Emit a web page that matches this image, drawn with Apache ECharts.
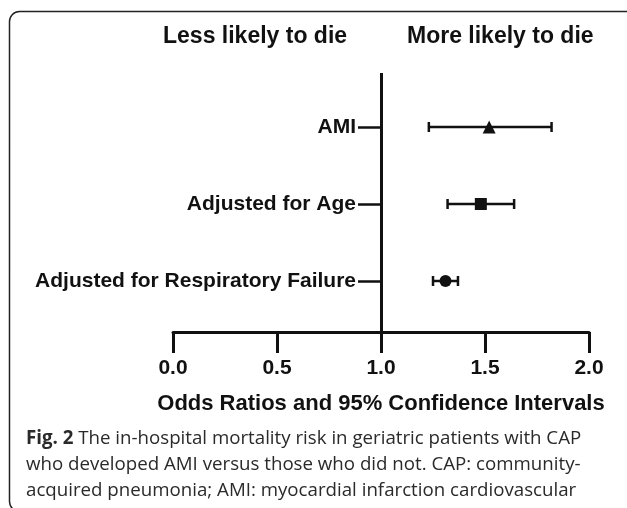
<!DOCTYPE html>
<html>
<head>
<meta charset="utf-8">
<script src="https://cdn.jsdelivr.net/npm/echarts@6/dist/echarts.min.js"></script>
<style>
  html, body { margin: 0; padding: 0; background: #fff; }
  #main { width: 627px; height: 508px; }
</style>
</head>
<body>
<div id="main"></div>
<script>
// forest plot data
var categories = ['AMI', 'Adjusted for Age', 'Adjusted for Respiratory Failure'];
var oddsRatio = [1.52, 1.48, 1.31];
var ciLow = [1.23, 1.32, 1.25];
var ciHigh = [1.82, 1.64, 1.37];
var markers = ['triangle', 'rect', 'circle'];
var markerSize = [13, 12, 12];
var xTicks = [0, 0.5, 1.0, 1.5, 2.0];
var captionLines = [
  '{b|Fig. 2} The in-hospital mortality risk in geriatric patients with CAP',
  'who developed AMI versus those who did not. CAP: community-',
  'acquired pneumonia; AMI: myocardial infarction cardiovascular'
];

var ink = '#111';
var font = 'Liberation Sans, Arial, sans-serif';

var myChart = echarts.init(document.getElementById('main'));

var barData = categories.map(function (c, i) { return [i, ciLow[i], ciHigh[i]]; });
var pointData = categories.map(function (c, i) {
  return { value: [oddsRatio[i], i], symbol: markers[i], symbolSize: markerSize[i] };
});

var option = {
  animation: false,
  backgroundColor: '#fff',
  grid: [
    { left: 173, right: 38, top: 73, bottom: 176 },
    { left: 381, right: 38, top: 127, bottom: 227 }
  ],
  xAxis: [
    {
      gridIndex: 0, type: 'value',
      min: xTicks[0], max: xTicks[xTicks.length - 1], interval: 0.5,
      axisLine: { show: true, lineStyle: { color: ink, width: 3 } },
      axisTick: { show: true, inside: false, length: 21, lineStyle: { color: ink, width: 3 } },
      splitLine: { show: false },
      axisLabel: {
        margin: 26, color: ink, fontSize: 21, fontWeight: 'bold', fontFamily: font,
        formatter: function (v) { return v.toFixed(1); }
      },
      name: 'Odds Ratios and 95% Confidence Intervals',
      nameLocation: 'middle', nameGap: 61,
      nameTextStyle: { color: ink, fontSize: 22, fontWeight: 'bold', fontFamily: font }
    },
    {
      gridIndex: 1, type: 'value', min: 1, max: 2, show: false
    }
  ],
  yAxis: [
    { gridIndex: 0, type: 'value', min: 0, max: 1, show: false },
    {
      gridIndex: 1, type: 'category', data: categories, inverse: true, boundaryGap: false,
      axisLine: { show: false },
      axisTick: { show: true, inside: false, length: 23, lineStyle: { color: ink, width: 2.5 } },
      axisLabel: { margin: 25, color: ink, fontSize: 21, fontWeight: 'bold', fontFamily: font }
    }
  ],
  graphic: [
    {
      type: 'rect', silent: true, z: -1,
      shape: { x: 9.5, y: 11.5, width: 700, height: 500, r: 10 },
      style: { fill: 'none', stroke: '#222', lineWidth: 1.5 }
    },
    {
      type: 'text', left: 163, top: 25, silent: true,
      style: { text: 'Less likely to die', fill: ink, font: 'bold 23px ' + font }
    },
    {
      type: 'text', left: 407, top: 25, silent: true,
      style: { text: 'More likely to die', fill: ink, font: 'bold 23px ' + font }
    },
    {
      type: 'text', left: 26, top: 426, silent: true,
      style: {
        text: captionLines.join('\n'),
        fill: '#2a2a2a', font: '18.7px Open Sans, sans-serif', lineHeight: 26,
        rich: { b: { fontWeight: 'bold', fontSize: 18.7, fontFamily: 'Open Sans', fill: '#2a2a2a', lineHeight: 26 } }
      }
    }
  ],
  series: [
    {
      // null line at OR = 1
      type: 'line', xAxisIndex: 0, yAxisIndex: 0, data: [], silent: true,
      markLine: {
        silent: true, symbol: 'none', label: { show: false },
        lineStyle: { color: ink, width: 3, type: 'solid' },
        data: [{ xAxis: 1 }]
      }
    },
    {
      type: 'custom', xAxisIndex: 1, yAxisIndex: 1, data: barData,
      encode: { x: [1, 2], y: 0 },
      renderItem: function (params, api) {
        var lo = api.coord([api.value(1), api.value(0)]);
        var hi = api.coord([api.value(2), api.value(0)]);
        var st = { stroke: ink, lineWidth: 2.5 };
        return {
          type: 'group',
          children: [
            { type: 'line', shape: { x1: lo[0], y1: lo[1], x2: hi[0], y2: hi[1] }, style: st },
            { type: 'line', shape: { x1: lo[0], y1: lo[1] - 5, x2: lo[0], y2: lo[1] + 5 }, style: st },
            { type: 'line', shape: { x1: hi[0], y1: hi[1] - 5, x2: hi[0], y2: hi[1] + 5 }, style: st }
          ]
        };
      }
    },
    {
      type: 'scatter', xAxisIndex: 1, yAxisIndex: 1, data: pointData,
      itemStyle: { color: ink, opacity: 1 }, z: 5
    }
  ]
};

myChart.setOption(option);
</script>
</body>
</html>
